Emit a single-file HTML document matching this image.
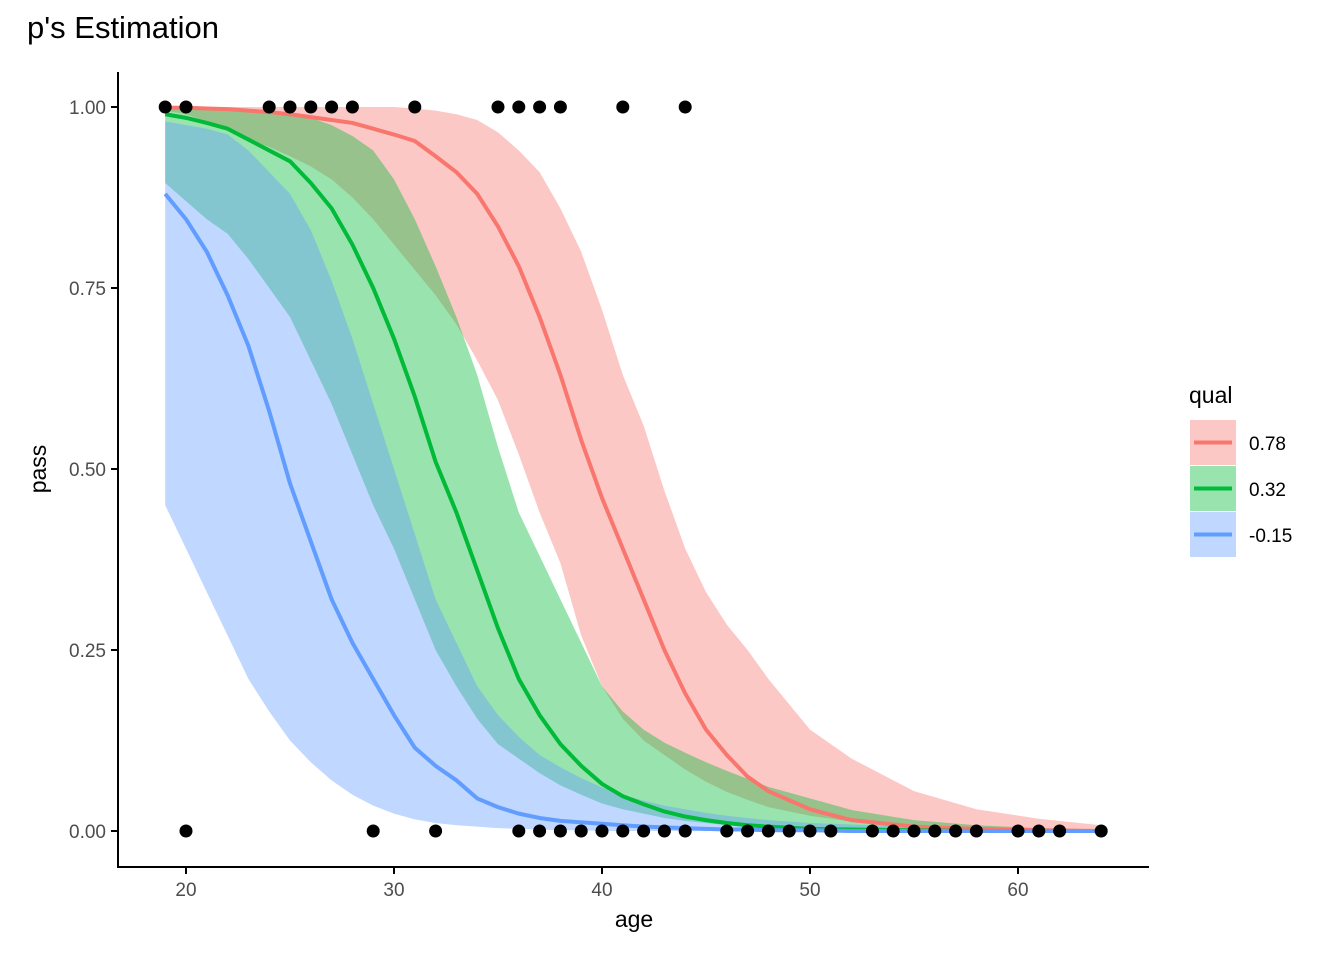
<!DOCTYPE html>
<html><head><meta charset="utf-8"><style>
body{margin:0;background:#fff;}
svg text{font-family:"Liberation Sans","Noto Sans CJK JP",sans-serif;}
</style></head><body>
<svg id="chart" width="1344" height="960">
<text x="27" y="38" font-size="31" fill="#000">p's Estimation</text>
<g id="bands"></g><g id="lines"></g><g id="points"></g><g id="axes"></g>
<text x="634" y="927" font-size="23" text-anchor="middle">age</text>
<text x="46" y="469" font-size="23" text-anchor="middle" transform="rotate(-90 46 469)">pass</text>
<text x="1189" y="403" font-size="23">qual</text>
<g id="legend"></g>
</svg>
<script>
const ages=[19,20,21,22,23,24,25,26,27,28,29,30,31,32,33,34,35,36,37,38,39,40,41,42,43,44,45,46,47,48,50,52,55,58,61,64];
const redMid=[0.999,0.999,0.998,0.997,0.995,0.993,0.99,0.986,0.982,0.978,0.97,0.962,0.953,0.932,0.91,0.88,0.835,0.78,0.71,0.63,0.54,0.46,0.39,0.32,0.25,0.19,0.14,0.105,0.075,0.055,0.03,0.015,0.006,0.003,0.001,0];
const redHi=[1,1,1,1,1,1,1,1,1,1,1,1,0.998,0.995,0.99,0.982,0.965,0.94,0.91,0.86,0.8,0.72,0.63,0.56,0.47,0.39,0.33,0.285,0.25,0.21,0.14,0.1,0.055,0.03,0.017,0.008];
const redLo=[0.995,0.99,0.98,0.967,0.955,0.945,0.932,0.918,0.9,0.875,0.845,0.81,0.775,0.74,0.7,0.65,0.595,0.52,0.44,0.37,0.27,0.2,0.155,0.125,0.105,0.085,0.068,0.054,0.043,0.033,0.021,0.013,0.006,0.003,0.001,0];
const greenMid=[0.99,0.985,0.978,0.97,0.955,0.94,0.925,0.895,0.86,0.81,0.75,0.68,0.6,0.51,0.44,0.36,0.28,0.21,0.16,0.12,0.09,0.065,0.048,0.037,0.027,0.02,0.015,0.011,0.008,0.006,0.003,0.002,0.001,0,0,0];
const greenHi=[1,1,0.999,0.998,0.997,0.995,0.99,0.985,0.975,0.96,0.94,0.9,0.845,0.78,0.71,0.63,0.53,0.44,0.38,0.32,0.26,0.2,0.165,0.14,0.122,0.108,0.095,0.083,0.072,0.061,0.045,0.029,0.015,0.008,0.004,0.002];
const greenLo=[0.895,0.87,0.845,0.825,0.79,0.75,0.71,0.65,0.59,0.52,0.45,0.39,0.32,0.25,0.2,0.155,0.12,0.1,0.08,0.063,0.05,0.038,0.03,0.024,0.018,0.014,0.011,0.008,0.006,0.005,0.003,0.002,0.001,0,0,0];
const blueMid=[0.88,0.845,0.8,0.74,0.67,0.58,0.48,0.4,0.32,0.26,0.21,0.16,0.115,0.09,0.07,0.045,0.033,0.024,0.018,0.014,0.012,0.01,0.008,0.006,0.005,0.004,0.003,0.002,0.002,0.001,0.001,0,0,0,0,0];
const blueHi=[0.98,0.975,0.97,0.962,0.94,0.91,0.88,0.83,0.76,0.68,0.59,0.5,0.41,0.32,0.26,0.2,0.16,0.13,0.105,0.088,0.073,0.06,0.05,0.042,0.035,0.03,0.025,0.021,0.018,0.015,0.011,0.009,0.006,0.004,0.002,0.001];
const blueLo=[0.45,0.39,0.33,0.27,0.21,0.165,0.125,0.095,0.07,0.05,0.035,0.024,0.016,0.011,0.008,0.006,0.004,0.003,0.002,0.001,0.001,0,0,0,0,0,0,0,0,0,0,0,0,0,0,0];
const passAges=[19,20,24,25,26,27,28,31,35,36,37,38,41,44];
const failAges=[20,29,32,36,37,38,39,40,41,42,43,44,46,47,48,49,50,51,53,54,55,56,57,58,60,61,62,64];
const xTicks=[20,30,40,50,60];
const yTicks=[0,0.25,0.5,0.75,1.0];
const yTickLabels=["0.00","0.25","0.50","0.75","1.00"];
const legendLabels=["0.78","0.32","-0.15"];
const NS="http://www.w3.org/2000/svg";
const X=a=>186+(a-20)*20.8, Y=p=>831-p*724;
function mk(tag,attrs,parent){const e=document.createElementNS(NS,tag);for(const k in attrs)e.setAttribute(k,attrs[k]);document.getElementById(parent).appendChild(e);return e;}
const series=[["red","#F8766D",redMid,redHi,redLo],["green","#00BA38",greenMid,greenHi,greenLo],["blue","#619CFF",blueMid,blueHi,blueLo]];
series.forEach(s=>{
 let d=ages.map((a,i)=>(i?"L":"M")+X(a)+","+Y(s[3][i])).join("");
 d+=ages.slice().reverse().map((a,j)=>"L"+X(a)+","+Y(s[4][ages.length-1-j])).join("")+"Z";
 const b=mk("path",{d:d,fill:s[1],"fill-opacity":0.4},"bands");
 
 
});
series.forEach(s=>{
 const d=ages.map((a,i)=>(i?"L":"M")+X(a)+","+Y(s[2][i])).join("");
 const l=mk("path",{d:d,fill:"none",stroke:s[1],"stroke-width":4,"stroke-linejoin":"round"},"lines");
 
 
});
passAges.forEach(a=>{const c=mk("circle",{cx:X(a),cy:Y(1),r:6.5,fill:"#000"},"points");
 
 });
failAges.forEach(a=>{const c=mk("circle",{cx:X(a),cy:Y(0),r:6.5,fill:"#000"},"points");
 
 });
const ya=mk("line",{x1:118,y1:72,x2:118,y2:868,stroke:"#000","stroke-width":2},"axes");


const xa=mk("line",{x1:117,y1:867,x2:1149,y2:867,stroke:"#000","stroke-width":2},"axes");


xTicks.forEach(t=>{mk("line",{x1:X(t),y1:867,x2:X(t),y2:874,stroke:"#000","stroke-width":2},"axes");
 const tx=mk("text",{x:X(t),y:896,"font-size":19,fill:"#4d4d4d","text-anchor":"middle"},"axes");tx.textContent=t;
 
 });
yTicks.forEach((t,i)=>{mk("line",{x1:111,y1:Y(t),x2:118,y2:Y(t),stroke:"#000","stroke-width":2},"axes");
 const tx=mk("text",{x:106,y:Y(t)+7,"font-size":19,fill:"#4d4d4d","text-anchor":"end"},"axes");tx.textContent=yTickLabels[i];
 
 });
series.forEach((s,i)=>{const y0=420+i*46;
 const r=mk("rect",{x:1190,y:y0,width:46,height:45,fill:s[1],"fill-opacity":0.4},"legend");
 
 
 mk("line",{x1:1194,y1:y0+22.5,x2:1232,y2:y0+22.5,stroke:s[1],"stroke-width":4},"legend");
 const tx=mk("text",{x:1249,y:y0+30,"font-size":19,fill:"#000"},"legend");tx.textContent=legendLabels[i];
 
 });
</script>
</body></html>
